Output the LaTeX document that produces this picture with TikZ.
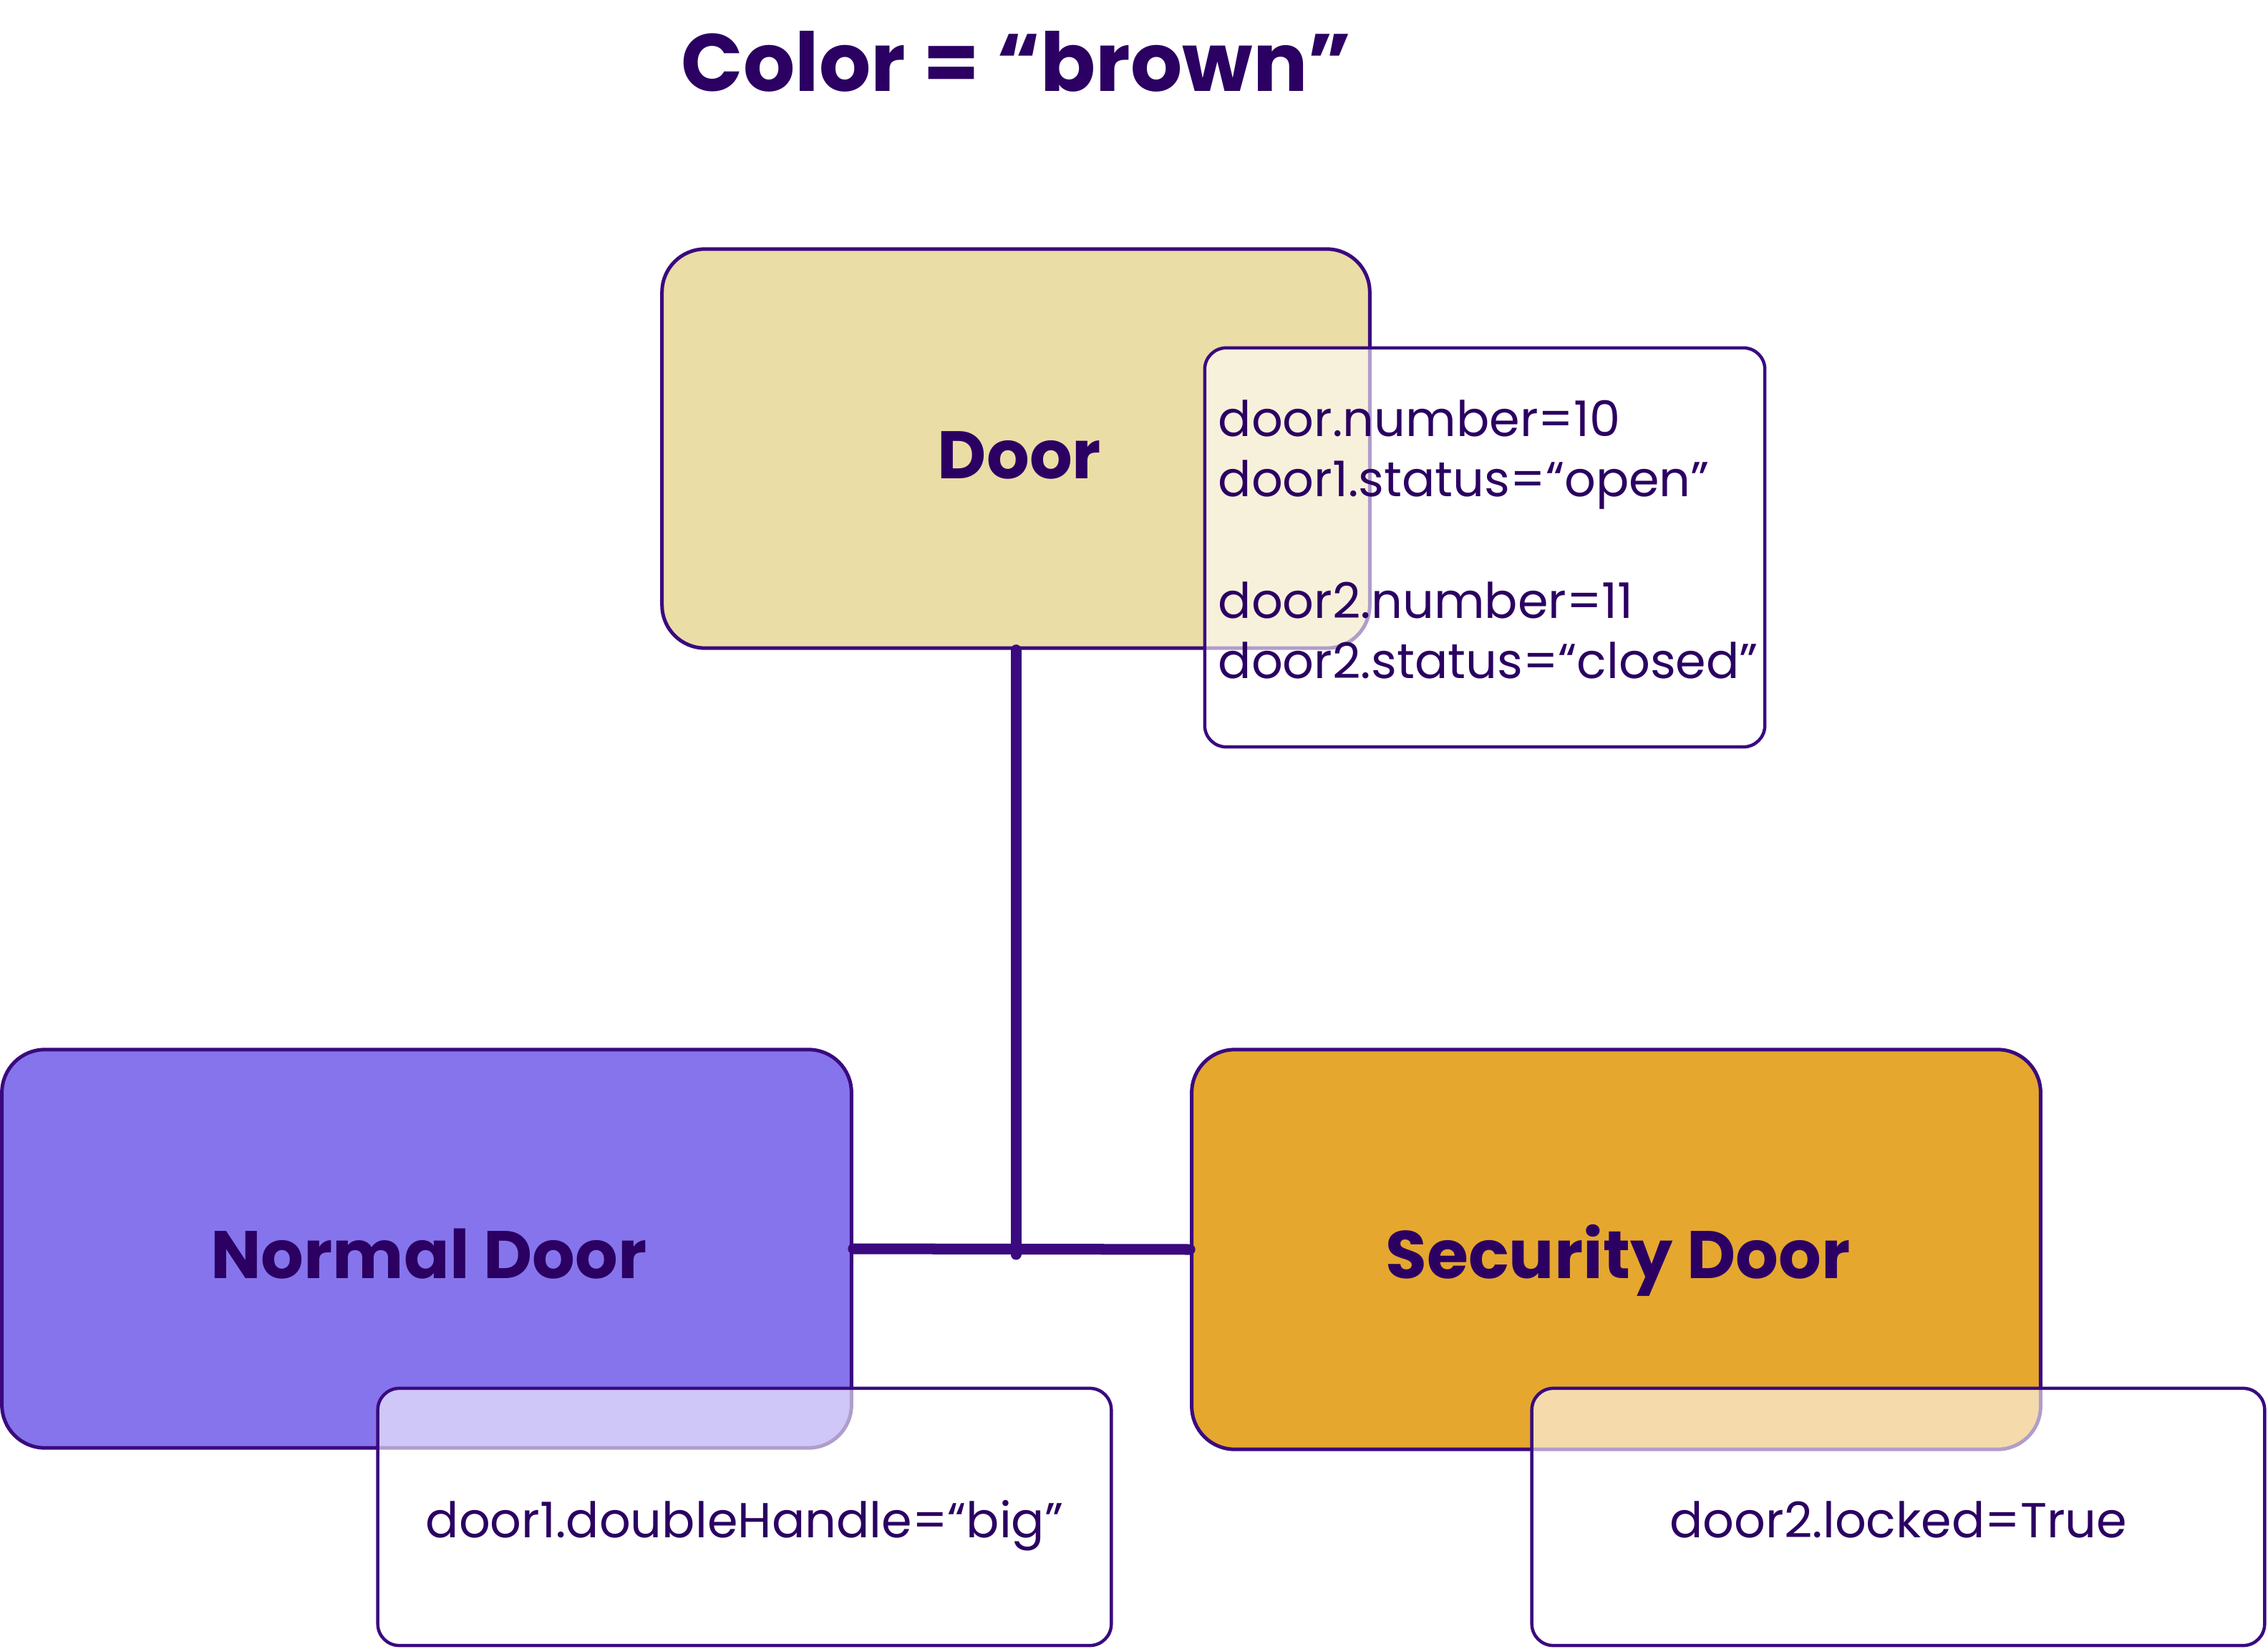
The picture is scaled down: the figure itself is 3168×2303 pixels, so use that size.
\documentclass[tikz,border=0pt]{standalone}
\usepackage{fontspec}
\setmainfont{Poppins}
\definecolor{ink}{HTML}{2B0062}
\definecolor{edge}{HTML}{3A0A7E}
\definecolor{doorfill}{HTML}{EBDDA6}
\definecolor{normalfill}{HTML}{8674EC}
\definecolor{securefill}{HTML}{E6A72F}
\begin{document}
\begin{tikzpicture}[x=0.01cm,y=-0.01cm,
  classbox/.style={draw=edge, line width=0.05cm, rounded corners=0.6cm, inner sep=0pt},
  attrbox/.style={draw=edge, line width=0.045cm, rounded corners=0.3cm, inner sep=0pt,
                  fill=white, fill opacity=0.6, draw opacity=1},
  classlabel/.style={text=ink, font=\bfseries\fontsize{26.7pt}{30pt}\selectfont, inner sep=0pt},
  attrtext/.style={text=ink, font=\fontsize{19.5pt}{24pt}\selectfont, inner sep=0pt},
  titletext/.style={text=ink, font=\bfseries\fontsize{32.3pt}{36pt}\selectfont, inner sep=0pt},
  link/.style={draw=edge, line width=0.15cm, line cap=round}]
\fill[white] (0,0) rectangle (3168,2303);
\useasboundingbox (0,0) rectangle (3168,2303);

\node[titletext, anchor=base] (title) at (1420,128) {Color = “brown”};

% class boxes
\node[classbox, fill=doorfill, minimum width=9.88cm, minimum height=5.57cm] (door) at (1419,626.5) {};
\node[classbox, fill=normalfill, minimum width=11.86cm, minimum height=5.56cm] (normal) at (596,1744) {};
\node[classbox, fill=securefill, minimum width=11.85cm, minimum height=5.58cm] (security) at (2257.5,1745) {};

\node[classlabel, anchor=base] (doorlbl) at (1424,668) {Door};
\node[classlabel, anchor=base] (normallbl) at (599,1785) {Normal Door};
\node[classlabel, anchor=base] (securitylbl) at (2260,1785) {Security Door};

% connectors
\coordinate (junction) at (1419,1752);
\draw[link] (door.south) -- (junction);
\draw[link] (normal.east) -- (security.west);

% attribute boxes
\node[attrbox, minimum width=7.82cm, minimum height=5.57cm] (doorattr) at (2074,764.5) {};
\node[attrbox, minimum width=10.24cm, minimum height=3.59cm] (normalattr) at (1040,2118.5) {};
\node[attrbox, minimum width=10.23cm, minimum height=3.59cm] (securityattr) at (2651.5,2118.5) {};

\node[attrtext, anchor=base west] (a1) at (1701,610) {door.number=10};
\node[attrtext, anchor=base west] (a2) at (1701,693) {door1.status=“open”};
\node[attrtext, anchor=base west] (a3) at (1701,863) {door2.number=11};
\node[attrtext, anchor=base west] (a4) at (1701,947) {door2.status=“closed”};

\node[attrtext, anchor=base] (n1) at (1040,2147) {door1.doubleHandle=“big”};
\node[attrtext, anchor=base] (s1) at (2652,2147) {door2.locked=True};
\end{tikzpicture}
\end{document}
